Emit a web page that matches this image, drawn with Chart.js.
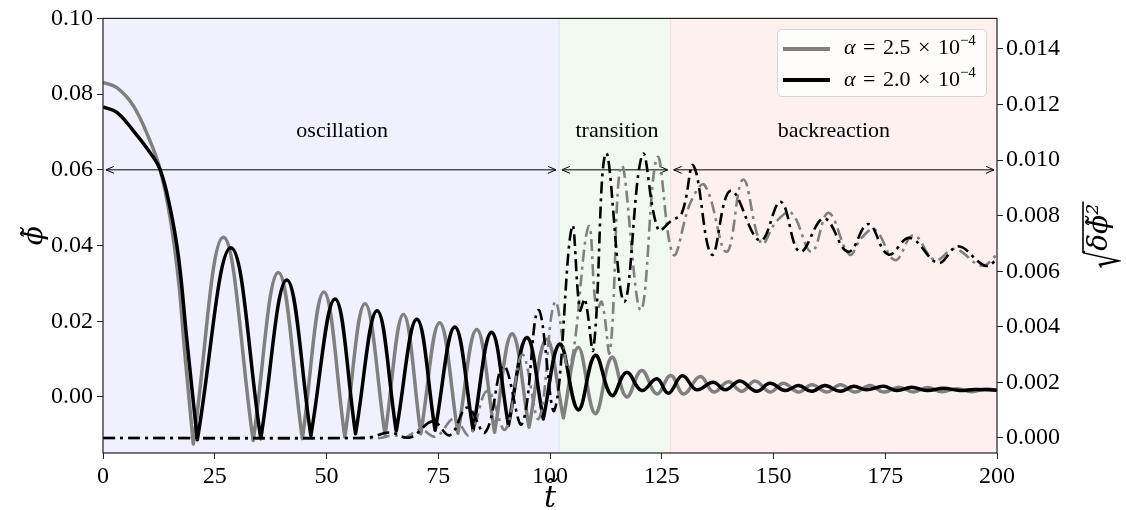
<!DOCTYPE html>
<html>
<head>
<meta charset="utf-8">
<title>phi and field variance</title>
<script src="https://cdn.jsdelivr.net/npm/chart.js@4.4.1/dist/chart.umd.min.js"></script>
<style>
  html, body { margin: 0; padding: 0; background: #fff; }
  #wrap { position: relative; width: 1126px; height: 510px; }
  #legend {
    position: absolute; left: 777px; top: 29px; width: 210px; height: 68px;
    box-sizing: border-box; border: 1px solid #d6d6d6; border-radius: 5px;
    background: rgba(255, 255, 255, 0.8);
    font-family: "Liberation Serif", serif; font-size: 22px; color: #000;
  }
  #legend .row { position: absolute; left: 5px; height: 30px; line-height: 30px; white-space: nowrap; word-spacing: 2px; }
  #legend .swatch { display: inline-block; width: 47px; height: 4px; vertical-align: middle; margin-right: 14px; }
  #legend sup { font-size: 15px; vertical-align: 9px; line-height: 0; }
</style>
</head>
<body>
<div id="wrap">
  <canvas id="myChart" width="1126" height="510"></canvas>
  <div id="legend"></div>
</div>
<script>
// values
var alphaValues = ["2.5", "2.0"];
var alphaExponent = "\u22124";

var xTicks = [0, 25, 50, 75, 100, 125, 150, 175, 200];
var phiTicks = [0, 0.02, 0.04, 0.06, 0.08, 0.10];
var dphiTicks = [0, 0.002, 0.004, 0.006, 0.008, 0.010, 0.012, 0.014];

var phaseNames = ["oscillation", "transition", "backreaction"];
var phaseEdges = [0, 102, 127, 200];

// [t, phi] ; each cusp of the bouncing curve is listed twice so the spline keeps its corner
var phiAlpha25 = [
  [0, 0.0831], [3.1, 0.0817], [6.8, 0.0769], [10.5, 0.0677], [12.8, 0.0600], [15.0, 0.0474], [16.9, 0.0307], [18.3, 0.0115],
  [20.2, -0.0124], [20.2, -0.0124], [26.9, 0.0422],
  [33.6, -0.0115], [33.6, -0.0115], [39.2, 0.0329],
  [44.6, -0.0110], [44.6, -0.0110], [49.4, 0.0277],
  [54.1, -0.0106], [54.1, -0.0106], [58.6, 0.0246],
  [63.1, -0.0100], [63.1, -0.0100], [67.2, 0.0218],
  [71.1, -0.0097], [71.1, -0.0097], [75.3, 0.0196],
  [79.4, -0.0096], [79.4, -0.0096], [83.6, 0.0178],
  [87.6, -0.0093], [87.6, -0.0093], [91.5, 0.0167],
  [95.3, -0.0080], [95.3, -0.0080], [99.2, 0.0152],
  [103.0, -0.0055], [103.0, -0.0055], [106.3, 0.0131],
  [110.1, -0.0044], [113.8, 0.0105], [117.1, 0.0000], [120.5, 0.0070], [123.9, 0.0008],
  [127.0, 0.0057], [129.9, 0.0008], [133.6, 0.0054], [136.6, 0.0013], [139.9, 0.0040],
  [142.9, 0.0015], [145.9, 0.0042], [149.2, 0.0013], [152.2, 0.0036], [155.6, 0.0013],
  [158.6, 0.0032], [161.9, 0.0013], [165.0, 0.0032], [168.2, 0.0013], [171.6, 0.0030],
  [174.7, 0.0013], [178.0, 0.0026], [181.3, 0.0013], [184.4, 0.0025], [187.7, 0.0014],
  [191.0, 0.0022], [194.3, 0.0014], [197.6, 0.0021], [200, 0.0017]
];

var phiAlpha20 = [
  [0, 0.0766], [3.1, 0.0752], [6.8, 0.0703], [10.5, 0.0646], [12.8, 0.0600], [15.0, 0.0500], [16.9, 0.0369], [18.7, 0.0158],
  [21.1, -0.0113], [21.1, -0.0113], [28.6, 0.0394],
  [35.3, -0.0110], [35.3, -0.0110], [41.1, 0.0309],
  [46.5, -0.0102], [46.5, -0.0102], [51.9, 0.0259],
  [56.5, -0.0097], [56.5, -0.0097], [61.3, 0.0228],
  [65.6, -0.0090], [65.6, -0.0090], [70.2, 0.0205],
  [74.3, -0.0088], [74.3, -0.0088], [78.7, 0.0185],
  [82.8, -0.0087], [82.8, -0.0087], [86.9, 0.0171],
  [90.7, -0.0075], [90.7, -0.0075], [94.8, 0.0157],
  [98.5, -0.0058], [98.5, -0.0058], [102.2, 0.0140],
  [106.3, -0.0034], [110.1, 0.0110], [113.8, 0.0004], [117.1, 0.0065], [120.5, 0.0017],
  [123.9, 0.0048], [126.5, 0.0010], [129.6, 0.0056], [132.8, 0.0019], [136.5, 0.0039],
  [139.2, 0.0019], [142.5, 0.0042], [146.2, 0.0015], [149.2, 0.0036], [152.6, 0.0017],
  [155.6, 0.0030], [158.5, 0.0015], [161.5, 0.0030], [164.9, 0.0015], [167.9, 0.0028],
  [170.8, 0.0019], [174.6, 0.0028], [177.6, 0.0017], [180.9, 0.0026], [184.3, 0.0017],
  [188.0, 0.0023], [191.7, 0.0017], [195.0, 0.0020], [200, 0.0018]
];

// [t, sqrt(<delta phi^2>)] on the right axis
var dphiAlpha25 = [
  [0, 0], [62, 0], [65, 0.0001], [67.5, 0.00002], [71, 0.0003], [74.5, 0.00005], [78.6, 0.0007],
  [82, 0.0001], [86, 0.0017], [90, 0.0003], [93.8, 0.0030], [97.5, 0.0007], [101.1, 0.0049],
  [104.3, 0.0025], [108.6, 0.0076], [110.4, 0.0046], [111.6, 0.0049], [113.4, 0.0031], [116, 0.0098],
  [120.3, 0.0046], [124, 0.0101], [127.6, 0.0066], [131.5, 0.0085], [134.6, 0.0091], [139.5, 0.0067],
  [143.2, 0.0093], [147.3, 0.0070], [150.7, 0.0078], [154, 0.0081], [158.5, 0.0067], [162.3, 0.0081],
  [167, 0.0066], [169.7, 0.0072], [172.7, 0.0075], [177.2, 0.0064], [181.3, 0.0073], [186.1, 0.0064],
  [190.5, 0.0068], [196.6, 0.0062], [200, 0.0066]
];

var dphiAlpha20 = [
  [0, 0], [56, 0], [60, 0.00003], [64, 0.0002], [68.7, 0.00002], [73.8, 0.0006], [77.6, 0.0001],
  [81.5, 0.0011], [85.5, 0.0002], [89.6, 0.0026], [93.7, 0.0005], [97.4, 0.0046], [101, 0.0010],
  [104.9, 0.0076], [106.7, 0.0046], [107.8, 0.0050], [109.7, 0.0032], [112.5, 0.01025], [116.6, 0.0049],
  [120.7, 0.0102], [124.2, 0.0075], [127, 0.0078], [129.5, 0.0081], [132.1, 0.0098], [136.2, 0.0066],
  [140.4, 0.0089], [147, 0.0071], [151.6, 0.0085], [155.9, 0.0067], [161.3, 0.0079], [166.7, 0.0067],
  [171.2, 0.0077], [175.7, 0.0066], [180.5, 0.0072], [186.9, 0.0063], [191.3, 0.0069], [197.3, 0.0062],
  [200, 0.0064]
];

function toPoints(list) {
  return list.map(function (p) { return { x: p[0], y: p[1] }; });
}

var serif = '"Liberation Serif", "DejaVu Serif", serif';
var mathFont = '"DejaVu Serif", serif';
var tickFont = { family: serif, size: 24 };

// shaded phases, arrows, phase names, frame and right axis title
var phasePlugin = {
  id: "phases",
  beforeDatasetsDraw: function (chart) {
    var ctx = chart.ctx, a = chart.chartArea, x = chart.scales.x, y = chart.scales.y;
    var fills = ["rgba(0,0,255,0.06)", "rgba(0,128,0,0.06)", "rgba(255,0,0,0.06)"];
    var labelAt = [53.5, 115, 163.5];
    ctx.save();
    for (var i = 0; i < phaseNames.length; i++) {
      var x0 = x.getPixelForValue(phaseEdges[i]);
      var x1 = x.getPixelForValue(phaseEdges[i + 1]);
      ctx.fillStyle = fills[i];
      ctx.fillRect(x0, a.top, x1 - x0, a.bottom - a.top);
      ctx.strokeStyle = fills[i];
      ctx.lineWidth = 1;
      ctx.strokeRect(x0, a.top, x1 - x0, a.bottom - a.top);
    }
    var ya = y.getPixelForValue(0.06);
    ctx.strokeStyle = "#000";
    ctx.lineWidth = 1;
    for (var j = 0; j < phaseNames.length; j++) {
      var l = x.getPixelForValue(phaseEdges[j]) + 3;
      var r = x.getPixelForValue(phaseEdges[j + 1]) - 3;
      ctx.beginPath();
      ctx.moveTo(l, ya); ctx.lineTo(r, ya);
      ctx.moveTo(l + 8, ya - 3.5); ctx.lineTo(l, ya); ctx.lineTo(l + 8, ya + 3.5);
      ctx.moveTo(r - 8, ya - 3.5); ctx.lineTo(r, ya); ctx.lineTo(r - 8, ya + 3.5);
      ctx.stroke();
    }
    ctx.fillStyle = "#000";
    ctx.font = "22px " + serif;
    ctx.textAlign = "center";
    ctx.textBaseline = "middle";
    for (var k = 0; k < phaseNames.length; k++) {
      ctx.fillText(phaseNames[k], x.getPixelForValue(labelAt[k]), y.getPixelForValue(0.0702));
    }
    ctx.restore();
  },
  afterDatasetsDraw: function (chart) {
    var ctx = chart.ctx, a = chart.chartArea;
    ctx.save();
    ctx.strokeStyle = "#222";
    ctx.lineWidth = 1.2;
    ctx.strokeRect(a.left, a.top, a.right - a.left, a.bottom - a.top);
    ctx.restore();
  },
  afterDraw: function (chart) {
    var ctx = chart.ctx;
    ctx.save();
    ctx.translate(1099, 236);
    ctx.rotate(-Math.PI / 2);
    ctx.fillStyle = "#000";
    ctx.textBaseline = "alphabetic";
    ctx.textAlign = "left";
    var body = "\u03b4\u03d5\u0303\u00b2";
    ctx.font = "italic 28px " + mathFont;
    var bw = ctx.measureText(body).width;
    ctx.font = "46px " + mathFont;
    var rm = ctx.measureText("\u221a");
    var sx = 0.6;
    var rw = rm.width * sx;
    var start = -(rw + bw) / 2;
    var rBase = 23 - rm.actualBoundingBoxDescent;
    var rTop = rBase - rm.actualBoundingBoxAscent;
    ctx.save();
    ctx.translate(start, rBase);
    ctx.scale(sx, 1);
    ctx.fillText("\u221a", 0, 0);
    ctx.restore();
    ctx.strokeStyle = "#000";
    ctx.lineWidth = 1.6;
    ctx.beginPath();
    ctx.moveTo(start + rw - 2, rTop + 1);
    ctx.lineTo(start + rw + bw + 2, rTop + 1);
    ctx.stroke();
    ctx.font = "italic 28px " + mathFont;
    ctx.fillText(body, start + rw, 8);
    ctx.restore();
  }
};

window.onload = function () {
  var legend = document.getElementById("legend");
  var colors = ["#808080", "#000000"];
  alphaValues.forEach(function (v, i) {
    var row = document.createElement("div");
    row.className = "row";
    row.style.top = (2 + i * 31.5) + "px";
    row.innerHTML = '<span class="swatch" style="background:' + colors[i] + '"></span>' +
      "<i>\u03b1</i> = " + v + " \u00d7 10<sup>" + alphaExponent + "</sup>";
    legend.appendChild(row);
  });

  var ctx = document.getElementById("myChart").getContext("2d");
  var myChart = new Chart(ctx, {
    type: "line",
    data: {
      datasets: [
        {
          label: "\u03b1 = 2.5 \u00d7 10\u207b\u2074",
          data: toPoints(phiAlpha25),
          yAxisID: "y",
          borderColor: "#808080",
          borderWidth: 3.5,
          order: 4,
        },
        {
          label: "\u03b1 = 2.0 \u00d7 10\u207b\u2074",
          data: toPoints(phiAlpha20),
          yAxisID: "y",
          borderColor: "#000000",
          borderWidth: 3.5,
          order: 3,
        },
        {
          label: "\u221a\u03b4\u03d5\u00b2, \u03b1 = 2.5 \u00d7 10\u207b\u2074",
          data: toPoints(dphiAlpha25),
          yAxisID: "y1",
          borderColor: "#808080",
          borderWidth: 2.6,
          borderDash: [12, 5, 3, 5],
          borderCapStyle: "butt",
          order: 2,
        },
        {
          label: "\u221a\u03b4\u03d5\u00b2, \u03b1 = 2.0 \u00d7 10\u207b\u2074",
          data: toPoints(dphiAlpha20),
          yAxisID: "y1",
          borderColor: "#000000",
          borderWidth: 2.6,
          borderDash: [12, 5, 3, 5],
          borderCapStyle: "butt",
          order: 1,
        },
      ],
    },
    options: {
      responsive: false,
      animation: false,
      layout: { padding: { top: 17, left: 0, right: 0, bottom: 0 } },
      elements: {
        point: { radius: 0 },
        line: { tension: 0.4, borderJoinStyle: "round", fill: false },
      },
      plugins: {
        legend: { display: false },
        tooltip: { enabled: false },
      },
      scales: {
        x: {
          type: "linear",
          min: 0,
          max: 200,
          afterBuildTicks: function (s) { s.ticks = xTicks.map(function (v) { return { value: v }; }); },
          afterFit: function (s) { s.height = 57; },
          ticks: { font: tickFont, color: "#000", padding: 3, autoSkip: false, maxRotation: 0 },
          grid: { drawOnChartArea: false, tickLength: 6, color: "#222" },
          border: { display: false },
          title: {
            display: true,
            text: "t\u0303",
            color: "#000",
            font: { family: mathFont, size: 30, style: "italic", lineHeight: 0.7 },
            padding: { top: 0, bottom: 0 },
          },
        },
        y: {
          type: "linear",
          position: "left",
          min: -0.0148,
          max: 0.10,
          afterBuildTicks: function (s) { s.ticks = phiTicks.map(function (v) { return { value: v }; }); },
          afterFit: function (s) { s.width = 103; },
          ticks: {
            font: tickFont, color: "#000", padding: 4, autoSkip: false,
            callback: function (v) { return v.toFixed(2); },
          },
          grid: { drawOnChartArea: false, tickLength: 6, color: "#222" },
          border: { display: false },
          title: {
            display: true,
            text: "\u03d5\u0303",
            color: "#000",
            font: { family: mathFont, size: 28, style: "italic" },
            padding: { top: 18, bottom: 0 },
          },
        },
        y1: {
          type: "linear",
          position: "right",
          min: -0.00054,
          max: 0.0151,
          afterBuildTicks: function (s) { s.ticks = dphiTicks.map(function (v) { return { value: v }; }); },
          afterFit: function (s) { s.width = 129; },
          ticks: {
            font: tickFont, color: "#000", padding: 3, autoSkip: false,
            callback: function (v) { return v.toFixed(3); },
          },
          grid: { drawOnChartArea: false, tickLength: 6, color: "#222" },
          border: { display: false },
        },
      },
    },
    plugins: [phasePlugin],
  });
};
</script>
</body>
</html>
